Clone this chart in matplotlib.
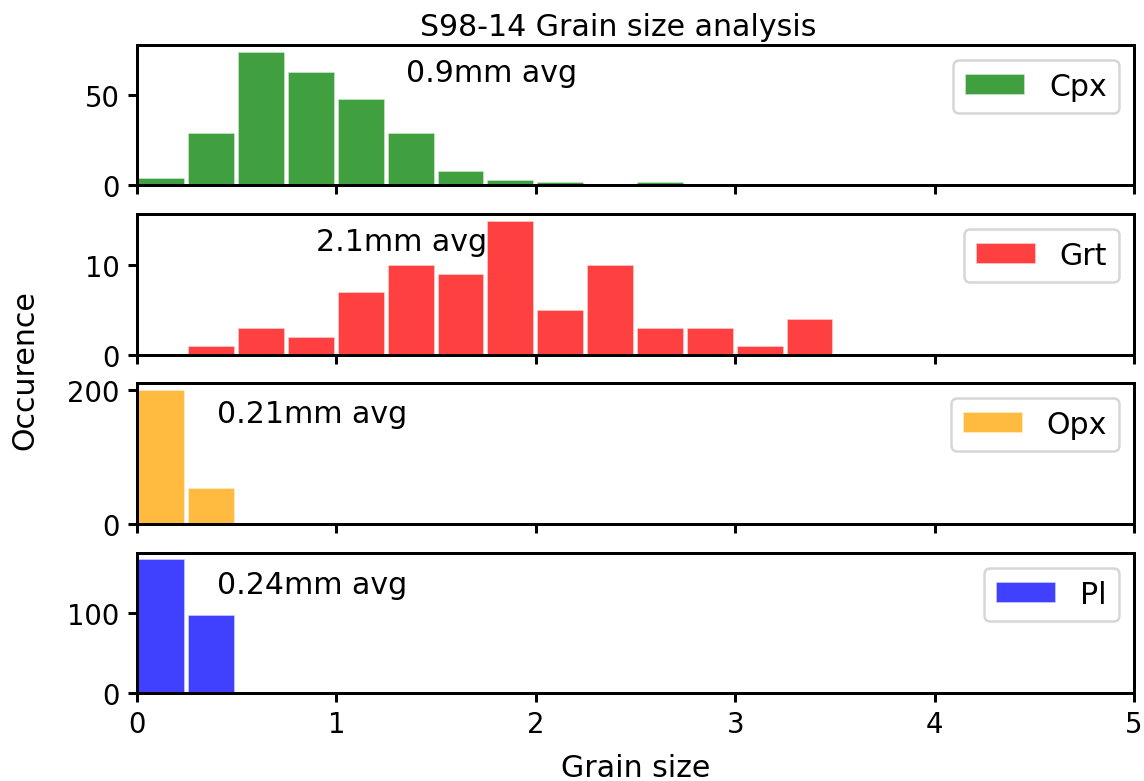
import numpy as np
import matplotlib
matplotlib.use("Agg")
import matplotlib.pyplot as plt

# bins of 0.25 mm from 0 to 5
bin_edges = np.arange(0, 5.01, 0.25)
bin_centers = bin_edges[:-1] + 0.125

cpx_counts = [4, 29, 74, 63, 48, 29, 8, 3, 2, 0, 2, 0, 0, 0, 0, 0, 0, 0, 0, 0]
grt_counts = [0, 1, 3, 2, 7, 10, 9, 15, 5, 10, 3, 3, 1, 4, 0, 0, 0, 0, 0, 0]
opx_counts = [200, 54, 0, 0, 0, 0, 0, 0, 0, 0, 0, 0, 0, 0, 0, 0, 0, 0, 0, 0]
pl_counts = [167, 97, 0, 0, 0, 0, 0, 0, 0, 0, 0, 0, 0, 0, 0, 0, 0, 0, 0, 0]

minerals = ["Cpx", "Grt", "Opx", "Pl"]
colors = ["green", "red", "orange", "blue"]
avg_labels = ["0.9mm avg", "2.1mm avg", "0.21mm avg", "0.24mm avg"]
label_pos = [(1.35, 58), (0.9, 11.7), (0.4, 152), (0.4, 125)]
yticks = [[0, 50], [0, 10], [0, 200], [0, 100]]

DPI = 180
plt.rcParams["axes.linewidth"] = 1.2
plt.rcParams["xtick.major.width"] = 1.2
plt.rcParams["ytick.major.width"] = 1.2

fig, axes = plt.subplots(4, 1, sharex=True, figsize=(1144 / DPI, 782 / DPI), dpi=DPI)
fig.subplots_adjust(left=137 / 1144, right=1134 / 1144, top=1 - 46 / 782,
                    bottom=1 - 694 / 782, hspace=0.206)

all_counts = [cpx_counts, grt_counts, opx_counts, pl_counts]
for ax, counts, name, c, txt, pos, yt in zip(axes, all_counts, minerals, colors,
                                            avg_labels, label_pos, yticks):
    ax.bar(bin_centers, counts, width=0.25 * 0.94, color=c, alpha=0.75,
           edgecolor="white", linewidth=0.7, label=name)
    ax.set_xlim(0, 5)
    ax.set_yticks(yt)
    ax.text(pos[0], pos[1], txt, fontsize=12)
    ax.legend(loc="upper right", fontsize=12)
    ax.tick_params(labelbottom=False, labelsize=11)

axes[-1].tick_params(labelbottom=True)
axes[-1].set_xticks([0, 1, 2, 3, 4, 5])
axes[-1].set_xlabel("Grain size", fontsize=12, labelpad=6)
fig.text(25 / 1144, 0.5 * ((1 - 46 / 782) + (1 - 694 / 782)), "Occurence",
         rotation=90, va="center", ha="center", fontsize=12)
fig.text(618 / 1144, 1 - 28 / 782, "S98-14 Grain size analysis",
         ha="center", va="center", fontsize=12)

fig.savefig("out.png", dpi=DPI)
